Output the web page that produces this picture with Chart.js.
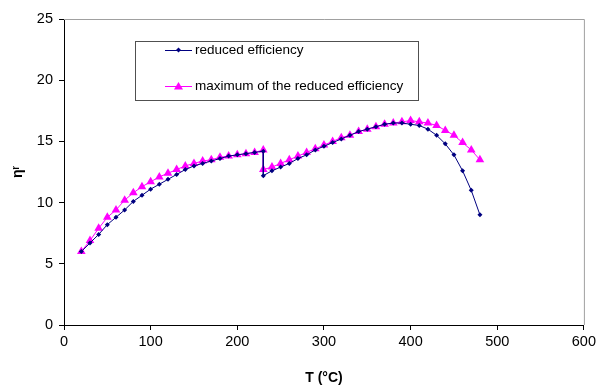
<!DOCTYPE html>
<html>
<head>
<meta charset="utf-8">
<script src="https://cdn.jsdelivr.net/npm/chart.js@4/dist/chart.umd.min.js"></script>
<style>
  html, body { margin: 0; padding: 0; background: #fff; }
  #wrap { width: 599px; height: 387px; }
</style>
</head>
<body>
<div id="wrap"><canvas id="myChart"></canvas></div>
<script>
// temperatures, 230 appears twice (jump in the curve)
const temps = [20, 30, 40, 50, 60, 70, 80, 90, 100, 110, 120, 130, 140, 150, 160, 170, 180, 190, 200, 210, 220, 230,
  230, 240, 250, 260, 270, 280, 290, 300, 310, 320, 330, 340, 350, 360, 370, 380, 390, 400, 410, 420, 430, 440, 450, 460, 470, 480];

const reduced = [6.0, 6.7, 7.4, 8.2, 8.8, 9.4, 10.1, 10.6, 11.1, 11.5, 11.9, 12.3, 12.7, 13.0, 13.2, 13.4, 13.6, 13.8, 13.9, 14.0, 14.1, 14.2,
  12.2, 12.6, 12.9, 13.2, 13.6, 13.9, 14.3, 14.6, 14.9, 15.2, 15.5, 15.8, 16.0, 16.2, 16.4, 16.5, 16.5, 16.4, 16.3, 16.0, 15.5, 14.8, 13.9, 12.6, 11.0, 9.0];

const maxReduced = [6.0, 6.9, 7.9, 8.8, 9.4, 10.2, 10.8, 11.3, 11.7, 12.1, 12.4, 12.7, 13.0, 13.2, 13.4, 13.5, 13.7, 13.8, 13.9, 14.0, 14.1, 14.3,
  12.7, 12.9, 13.2, 13.5, 13.8, 14.1, 14.4, 14.7, 15.0, 15.3, 15.5, 15.8, 16.0, 16.2, 16.4, 16.5, 16.6, 16.7, 16.6, 16.5, 16.3, 15.9, 15.5, 14.9, 14.3, 13.5];

const seriesNames = ["reduced efficiency", "maximum of the reduced efficiency"];
const xTicks = [0, 100, 200, 300, 400, 500, 600];
const yTicks = [0, 5, 10, 15, 20, 25];

const FONT = "'Liberation Sans', Arial, sans-serif";

function toPoints(vals) {
  return temps.map(function (t, i) { return { x: t, y: vals[i] }; });
}

// gray frame on top/right + boxed legend inside the plot
const framePlugin = {
  id: "frame",
  afterDraw: function (chart) {
    const ctx = chart.ctx;
    const a = chart.chartArea;
    ctx.save();
    ctx.strokeStyle = "#a0a0a0";
    ctx.lineWidth = 1;
    ctx.beginPath();
    ctx.moveTo(a.left, a.top + 0.5);
    ctx.lineTo(a.right + 0.5, a.top + 0.5);
    ctx.lineTo(a.right + 0.5, a.bottom);
    ctx.stroke();

    // legend box
    const bx = 135.5, by = 41.5, bw = 283, bh = 59;
    ctx.fillStyle = "#fff";
    ctx.fillRect(bx, by, bw, bh);
    ctx.strokeStyle = "#505050";
    ctx.strokeRect(bx, by, bw, bh);

    const rows = [50, 86];
    ctx.font = "13.5px " + FONT;
    ctx.textBaseline = "middle";
    chart.data.datasets.forEach(function (ds, i) {
      const y = rows[i];
      ctx.strokeStyle = ds.borderColor;
      ctx.lineWidth = 1;
      ctx.beginPath();
      ctx.moveTo(165, y + 0.5);
      ctx.lineTo(192, y + 0.5);
      ctx.stroke();
      ctx.fillStyle = ds.pointBackgroundColor;
      ctx.beginPath();
      if (ds.pointStyle === "triangle") {
        ctx.moveTo(178.5, y - 4);
        ctx.lineTo(183, y + 3.5);
        ctx.lineTo(174, y + 3.5);
      } else {
        ctx.moveTo(178.5, y - 2.5);
        ctx.lineTo(181, y);
        ctx.lineTo(178.5, y + 2.5);
        ctx.lineTo(176, y);
      }
      ctx.closePath();
      ctx.fill();
      ctx.fillStyle = "#000";
      ctx.fillText(ds.label, 195, y);
    });
    ctx.restore();
  }
};

new Chart(document.getElementById("myChart"), {
  type: "scatter",
  data: {
    datasets: [
      {
        label: seriesNames[0],
        data: toPoints(reduced),
        showLine: true,
        borderColor: "#000080",
        borderWidth: 1,
        pointStyle: "rectRot",
        pointRadius: 2.5,
        pointBackgroundColor: "#000080",
        pointBorderColor: "#000080",
        pointBorderWidth: 0,
        order: 1
      },
      {
        label: seriesNames[1],
        data: toPoints(maxReduced),
        showLine: true,
        borderColor: "#ff00ff",
        borderWidth: 1,
        pointStyle: "triangle",
        pointRadius: 5,
        pointBackgroundColor: "#ff00ff",
        pointBorderColor: "#ff00ff",
        pointBorderWidth: 0,
        order: 2
      }
    ]
  },
  options: {
    responsive: true,
    maintainAspectRatio: false,
    animation: false,
    layout: { padding: { left: 10, right: 15, top: 19, bottom: 0 } },
    plugins: {
      legend: { display: false },
      tooltip: { enabled: false }
    },
    scales: {
      x: {
        type: "linear",
        min: 0,
        max: 600,
        afterBuildTicks: function (s) { s.ticks = xTicks.map(function (v) { return { value: v }; }); },
        afterFit: function (s) { s.height = 62; },
        grid: { drawOnChartArea: false, drawTicks: true, tickLength: 5, color: "#000" },
        border: { color: "#000", width: 1 },
        ticks: { color: "#000", font: { family: FONT, size: 14.5 }, padding: 3, maxRotation: 0 },
        title: {
          display: true,
          text: "T (°C)",
          color: "#000",
          font: { family: FONT, size: 14, weight: "bold" },
          padding: { top: 6, bottom: 0 }
        }
      },
      y: {
        type: "linear",
        min: 0,
        max: 25,
        afterBuildTicks: function (s) { s.ticks = yTicks.map(function (v) { return { value: v }; }); },
        afterFit: function (s) { s.width = 54; },
        grid: { drawOnChartArea: false, drawTicks: true, tickLength: 5, color: "#000" },
        border: { color: "#000", width: 1 },
        ticks: { color: "#000", font: { family: FONT, size: 14.5 }, padding: 6 },
        title: {
          display: true,
          text: "ηʳ",
          color: "#000",
          font: { family: FONT, size: 14, weight: "bold" },
          padding: { top: 0, bottom: 4 }
        }
      }
    }
  },
  plugins: [framePlugin]
});
</script>
</body>
</html>
